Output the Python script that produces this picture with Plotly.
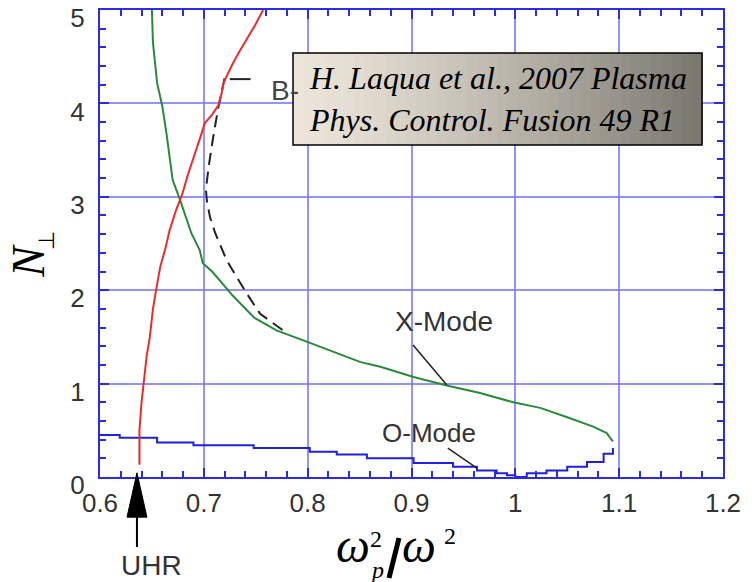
import plotly.graph_objects as go

# ---- data ----
x_mode_x = [0.650, 0.651, 0.655, 0.660, 0.664, 0.667, 0.670, 0.677, 0.682, 0.688, 0.696, 0.699,
            0.708, 0.716, 0.728, 0.748, 0.770, 0.799, 0.825, 0.851, 0.870, 0.902, 0.934, 0.966,
            0.998, 1.024, 1.050, 1.075, 1.088, 1.094]
x_mode_y = [5.00, 4.65, 4.22, 3.97, 3.68, 3.43, 3.18, 2.97, 2.80, 2.61, 2.43, 2.29,
            2.20, 2.10, 1.94, 1.71, 1.57, 1.45, 1.34, 1.23, 1.18, 1.07, 0.98, 0.90,
            0.80, 0.74, 0.64, 0.54, 0.47, 0.38]

o_mode_x = [0.600, 0.619, 0.655, 0.690, 0.748, 0.802, 0.828, 0.857, 0.902, 0.940, 0.963, 0.982,
            0.992, 1.000, 1.011, 1.030, 1.050, 1.069, 1.085, 1.094]
o_mode_y = [0.45, 0.42, 0.37, 0.34, 0.31, 0.27, 0.24, 0.20, 0.15, 0.11, 0.07, 0.04,
            0.02, 0.00, 0.04, 0.07, 0.11, 0.16, 0.25, 0.31]

uhr_x = [0.638, 0.638, 0.640, 0.642, 0.645, 0.648, 0.651, 0.654, 0.658, 0.663, 0.667, 0.673,
         0.679, 0.685, 0.692, 0.697, 0.701, 0.708, 0.714, 0.717, 0.719, 0.728, 0.734, 0.741,
         0.750, 0.757]
uhr_y = [0.13, 0.50, 0.80, 1.00, 1.30, 1.50, 1.80, 2.00, 2.25, 2.45, 2.64, 2.85,
         3.02, 3.25, 3.47, 3.65, 3.79, 3.88, 3.98, 4.10, 4.22, 4.43, 4.55, 4.68,
         4.85, 5.00]

b_x = [0.720, 0.714, 0.709, 0.705, 0.702, 0.703, 0.706, 0.711, 0.722, 0.741, 0.754, 0.780]
b_y = [4.27, 3.96, 3.64, 3.35, 3.08, 2.95, 2.78, 2.61, 2.32, 1.97, 1.75, 1.54]

x_ticks = [0.6, 0.7, 0.8, 0.9, 1.0, 1.1, 1.2]
x_tick_text = ["0.6", "0.7", "0.8", "0.9", "1", "1.1", "1.2"]
y_ticks = [0, 1, 2, 3, 4, 5]
y_tick_text = ["0", "1", "2", "3", "4", "5"]

# ---- styles ----
AXIS_BLUE = "#2b2be6"
GRID_BLUE = "rgba(120,120,255,0.8)"
SANS = "Liberation Sans, Arial, sans-serif"
SERIF = "Liberation Serif, Times New Roman, serif"

fig = go.Figure()
fig.add_trace(go.Scatter(x=o_mode_x, y=o_mode_y, mode="lines", line=dict(color="#1f1fe0", width=2, shape="hv"), showlegend=False))
fig.add_trace(go.Scatter(x=x_mode_x, y=x_mode_y, mode="lines", line=dict(color="#2a8a3a", width=2), showlegend=False))
fig.add_trace(go.Scatter(x=b_x, y=b_y, mode="lines", line=dict(color="#222222", width=2, dash="12px,7px"), showlegend=False))
fig.add_trace(go.Scatter(x=uhr_x, y=uhr_y, mode="lines", line=dict(color="#ee2b2b", width=2), showlegend=False))

axis_common = dict(
    showgrid=True, gridcolor=GRID_BLUE, gridwidth=2, zeroline=False,
    showline=True, linecolor=AXIS_BLUE, linewidth=2, mirror="allticks",
    ticks="inside", tickcolor=AXIS_BLUE, tickwidth=2, ticklen=9,
    tickfont=dict(family=SANS, size=26, color="#333333"),
    ticklabeloverflow="allow", automargin=False,
)
fig.update_xaxes(range=[0.6, 1.2], tickmode="array", tickvals=x_ticks, ticktext=x_tick_text,
                 minor=dict(dtick=0.02, tick0=0.6, ticks="inside", ticklen=6, tickcolor=AXIS_BLUE, tickwidth=2, showgrid=False),
                 ticklabelstandoff=2, **axis_common)
fig.update_yaxes(range=[0, 5.0001], tickmode="array", tickvals=y_ticks, ticktext=y_tick_text,
                 minor=dict(dtick=0.2, tick0=0, ticks="inside", ticklen=6, tickcolor=AXIS_BLUE, tickwidth=2, showgrid=False),
                 ticklabelstandoff=8, ticklabelshift=8, **axis_common)

shapes = []
# gradient citation box (strips)
bx0, bx1, by0, by1 = 0.3098, 0.9663, 0.7109, 0.9079
n = 40
c0 = (236, 230, 218)
c1 = (120, 118, 110)
for i in range(n):
    t = (i + 0.5) / n
    col = tuple(int(round(c0[k] + (c1[k] - c0[k]) * t ** 1.3)) for k in range(3))
    shapes.append(dict(type="rect", xref="paper", yref="paper",
                       x0=bx0 + (bx1 - bx0) * i / n, x1=bx0 + (bx1 - bx0) * (i + 1) / n + 0.001,
                       y0=by0, y1=by1, fillcolor="rgb(%d,%d,%d)" % col, line=dict(width=0), layer="above"))
shapes.append(dict(type="rect", xref="paper", yref="paper", x0=bx0, x1=bx1, y0=by0, y1=by1,
                   line=dict(color="black", width=1.5), fillcolor="rgba(0,0,0,0)", layer="above"))
# leader lines
shapes.append(dict(type="line", xref="x", yref="y", x0=0.725, y0=4.26, x1=0.745, y1=4.26, line=dict(color="#222", width=2)))
shapes.append(dict(type="line", xref="x", yref="y", x0=0.9015, y0=1.413, x1=0.934, y1=0.985, line=dict(color="#222", width=1.5)))
shapes.append(dict(type="line", xref="x", yref="y", x0=0.935, y0=0.31, x1=0.963, y1=0.096, line=dict(color="#222", width=1.5)))
# UHR arrow
shapes.append(dict(type="path", xref="x", yref="paper",
                   path="M 0.6356,0.009 L 0.6260,-0.086 L 0.6452,-0.086 Z",
                   fillcolor="black", line=dict(color="black", width=1)))
shapes.append(dict(type="line", xref="x", yref="paper", x0=0.6356, x1=0.6356, y0=-0.086, y1=-0.150,
                   line=dict(color="black", width=2)))


def px(xp):
    return (xp - 100) / 623


def py(yp):
    return (477 - yp) / 467


# slash of x title
shapes.append(dict(type="line", xref="paper", yref="paper",
                   x0=px(389), y0=py(578), x1=px(399), y1=py(538),
                   line=dict(color="black", width=5)))
fig.update_layout(shapes=shapes)


def note(text, x, y, size, family=SANS, color="#333", xref="paper", yref="paper", angle=0, xanchor="center"):
    return dict(text=text, xref=xref, yref=yref, x=x, y=y, xanchor=xanchor, yanchor="middle",
                showarrow=False, textangle=angle, font=dict(family=family, size=size, color=color))


ann = []
c = note("<i>H. Laqua et al., 2007 Plasma<br>Phys. Control. Fusion 49 R1</i>", px(307), py(99), 32,
         family=SERIF, color="black", xanchor="left")
c["align"] = "left"
ann.append(c)
ann.append(note("B-", 0.7625, 4.14, 28, xref="x", yref="y", color="#444", xanchor="left"))
ann.append(note("X-Mode", 0.9313, 1.66, 28, xref="x", yref="y"))
ann.append(note("O-Mode", 0.917, 0.47, 26, xref="x", yref="y"))
ann.append(note("UHR", px(151), py(565), 28))
# x title pieces
ann.append(note("<i>ω</i>", px(353), py(545), 48, family=SERIF, color="black"))
ann.append(note("2", px(376), py(539), 24, family=SERIF, color="black"))
ann.append(note("<i>p</i>", px(377), py(570), 24, family=SERIF, color="black"))
ann.append(note("<i>ω</i>", px(419), py(545), 48, family=SERIF, color="black"))
ann.append(note("2", px(450), py(536), 24, family=SERIF, color="black"))
# y title pieces
ann.append(note("<i>N</i>", px(28), py(261), 46, family=SERIF, color="black", angle=-90))
ann.append(note("⊥", px(47), py(241), 22, family=SERIF, color="black", angle=-90))

fig.update_layout(
    annotations=ann,
    width=755, height=582,
    margin=dict(l=100, r=32, t=10, b=105),
    plot_bgcolor="white", paper_bgcolor="white",
    showlegend=False,
)

fig.write_html("out.html")
